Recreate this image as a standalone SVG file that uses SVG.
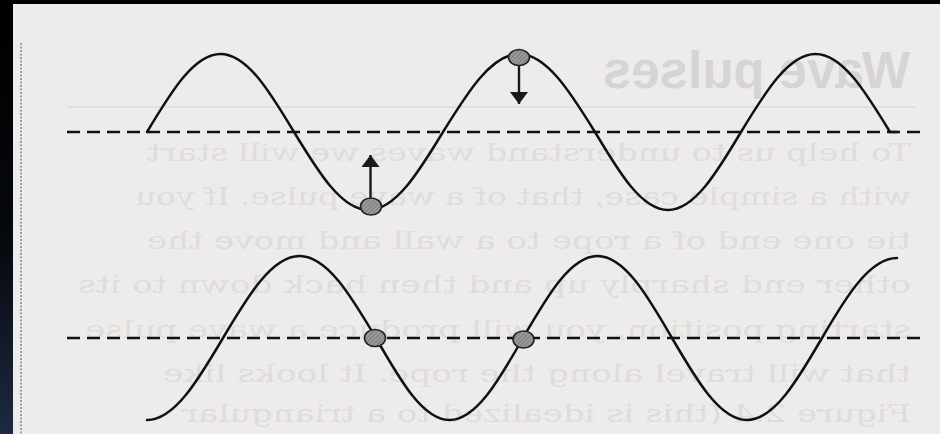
<svg xmlns="http://www.w3.org/2000/svg" width="940" height="434" viewBox="0 0 940 434">
  <defs>
    <linearGradient id="edge" x1="0" y1="0" x2="0" y2="1">
      <stop offset="0" stop-color="#000000"/>
      <stop offset="0.55" stop-color="#05080d"/>
      <stop offset="1" stop-color="#1c2a3f"/>
    </linearGradient>
    <pattern id="hatch" width="3" height="3" patternUnits="userSpaceOnUse" patternTransform="rotate(45)">
      <rect width="3" height="3" fill="#9a9a9a"/>
      <line x1="0" y1="0" x2="0" y2="3" stroke="#6a6a6a" stroke-width="1.2"/>
    </pattern>
    <marker id="head" viewBox="0 0 12 18" refX="12" refY="9" markerWidth="5" markerHeight="7.5" markerUnits="strokeWidth" orient="auto" preserveAspectRatio="none">
      <path d="M0,0 L12,9 L0,18 Z" fill="#1a1a1a"/>
    </marker>
    <style>
      .bleed { font-family: "DejaVu Serif", "Liberation Serif", serif; font-size: 24px; fill: #dedcdc; }
      .bleedhead { font-family: "Liberation Sans", Arial, sans-serif; font-weight: bold; font-size: 51px; fill: #d6d4d4; }
      .axis { stroke: #111; stroke-width: 2.4; stroke-dasharray: 13 7; fill: none; }
      .wave { stroke: #111; stroke-width: 2.5; fill: none; stroke-linecap: round; }
      .ball { fill: url(#hatch); stroke: #222; stroke-width: 1.6; }
      .arrow { stroke: #1a1a1a; stroke-width: 2.4; fill: none; marker-end: url(#head); }
    </style>
  </defs>

  <g id="page">
    <rect x="0" y="0" width="940" height="434" fill="#eeeceb"/>
    <rect x="0" y="0" width="940" height="4" fill="#000"/>
    <rect x="0" y="0" width="13" height="434" fill="url(#edge)"/>
    <line x1="21" y1="43" x2="21" y2="434" stroke="#555" stroke-width="1" stroke-dasharray="2 1.5"/>
  </g>

  <g id="bleed-through" transform="translate(940,0) scale(-1,1)">
    <text class="bleedhead" x="30" y="88" textLength="307" lengthAdjust="spacingAndGlyphs">Wave pulses</text>
    <line x1="25" y1="107" x2="873" y2="107" stroke="#dddbdb" stroke-width="1.5"/>
    <text class="bleed" x="29" y="161" textLength="764" lengthAdjust="spacingAndGlyphs">To help us to understand waves we will start</text>
    <text class="bleed" x="29" y="205" textLength="776" lengthAdjust="spacingAndGlyphs">with a simple case, that of a wave pulse. If you</text>
    <text class="bleed" x="29" y="249" textLength="764" lengthAdjust="spacingAndGlyphs">tie one end of a rope to a wall and move the</text>
    <text class="bleed" x="29" y="293" textLength="833" lengthAdjust="spacingAndGlyphs">other end sharply up and then back down to its</text>
    <text class="bleed" x="29" y="338" textLength="826" lengthAdjust="spacingAndGlyphs">starting position, you will produce a wave pulse</text>
    <text class="bleed" x="29" y="382" textLength="748" lengthAdjust="spacingAndGlyphs">that will travel along the rope. It looks like</text>
    <text class="bleed" x="29" y="422" textLength="729" lengthAdjust="spacingAndGlyphs">Figure 2.4 (this is idealized to a triangular</text>
  </g>

  <g id="top-wave">
    <line class="axis" x1="67" y1="132" x2="921" y2="132"/>
    <path class="wave" d="M147,132 C170.97,92 193.9,54 220.5,54 C247.1,54 270.03,92 294,132 C318.29,172 341.54,210 368.5,210 C395.46,210 418.71,172 443,132 C467.78,92 491.5,54 519,54 C546.5,54 570.22,92 595,132 C618.81,172 641.58,210 668,210 C694.42,210 717.17,172 741,132 C765.29,92 788.54,54 815.5,54 C842.46,54 865.71,92 890,132 L897,132"/>
  </g>

  <g id="bottom-wave">
    <line class="axis" x1="67" y1="338" x2="921" y2="338"/>
    <path class="wave" d="M147,420 C174.5,420 198.22,380 223,338 C247.95,296 271.81,256 299.5,256 C327.19,256 351.05,296 376,338 C399.97,380 422.9,420 449.5,420 C476.1,420 499.03,380 523,338 C547.29,296 570.54,256 597.5,256 C624.46,256 647.71,296 672,338 C696.46,380 719.86,420 747,420 C774.14,420 797.54,380 822,338 C846.46,296 869.86,258 897,258"/>
  </g>

  <g id="connectors">
    <line class="arrow" x1="370.5" y1="198" x2="370.5" y2="155"/>
    <line class="arrow" x1="519" y1="62" x2="519" y2="104"/>
  </g>

  <g id="particle-top-trough">
    <ellipse class="ball" cx="371" cy="206.5" rx="10.5" ry="8.5"/>
  </g>
  <g id="particle-top-crest">
    <ellipse class="ball" cx="519" cy="57.5" rx="10.5" ry="8"/>
  </g>
  <g id="particle-bottom-1">
    <ellipse class="ball" cx="375" cy="338" rx="10.5" ry="8.5"/>
  </g>
  <g id="particle-bottom-2">
    <ellipse class="ball" cx="523.5" cy="339.5" rx="10.5" ry="8.5"/>
  </g>
</svg>
